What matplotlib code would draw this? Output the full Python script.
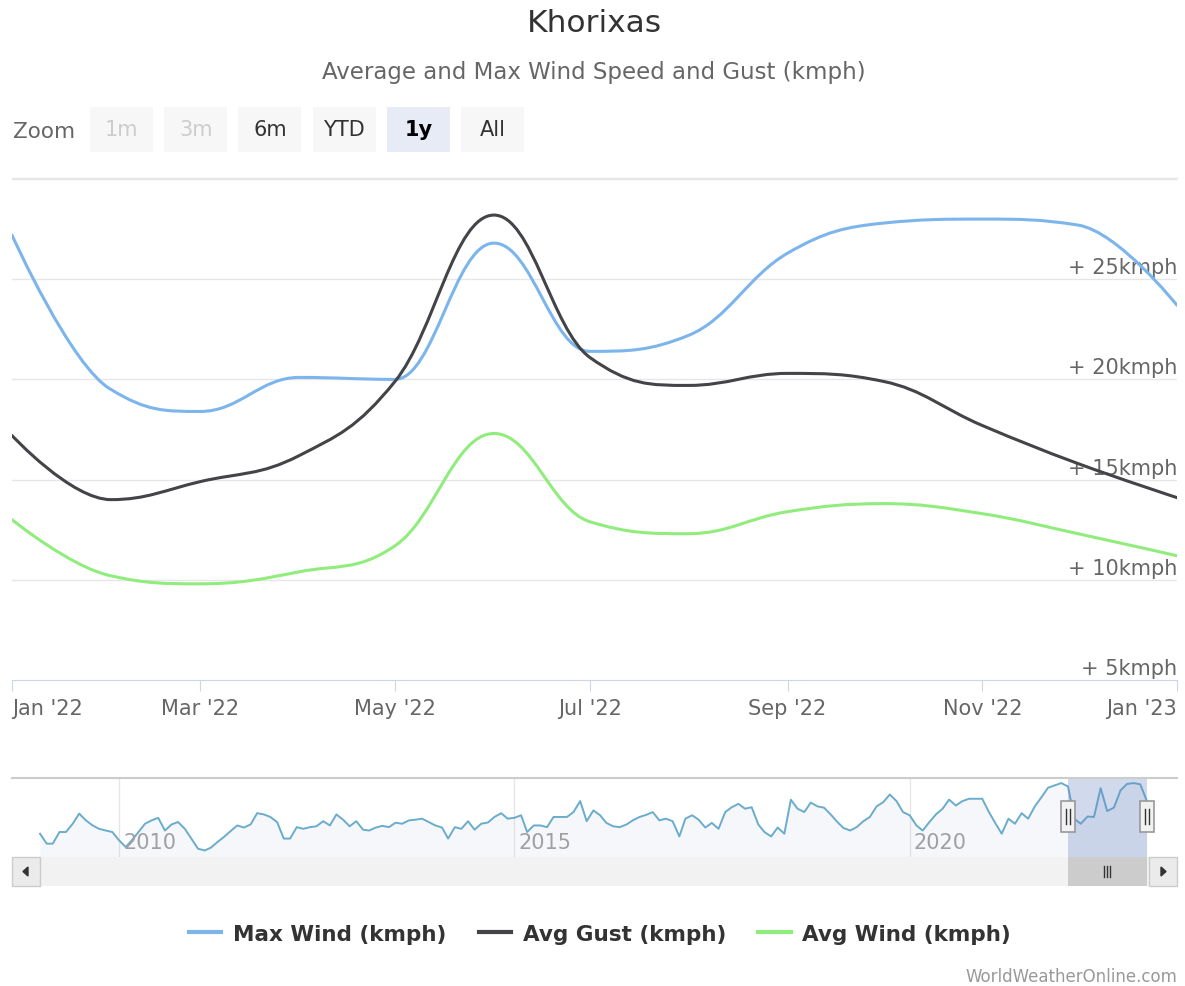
import numpy as np
import pandas as pd
import matplotlib
matplotlib.use("Agg")
import matplotlib.pyplot as plt
import matplotlib.dates as mdates
from matplotlib.path import Path
from matplotlib.patches import PathPatch, Rectangle, Polygon
from matplotlib.lines import Line2D

W, H = 1185, 987

# monthly values shown in the 1y view (Jan 2022 .. Jan 2023)
months = pd.date_range("2022-01-01", "2023-01-01", freq="MS")
max_wind = [27.2, 19.5, 18.4, 20.1, 20.0, 26.8, 21.4, 22.2, 26.3, 27.8, 28.0, 27.7, 23.7]
avg_gust = [17.2, 14.0, 14.9, 16.2, 19.9, 28.2, 21.1, 19.7, 20.3, 19.9, 17.7, 15.8, 14.1]
avg_wind = [13.0, 10.2, 9.8, 10.4, 11.7, 17.3, 12.9, 12.3, 13.4, 13.8, 13.3, 12.3, 11.2]

# navigator history of max wind, Jan 2009 .. Dec 2021
nav_max_wind = [
    16.05, 13.7, 13.7, 16.45, 16.45, 18.4, 20.8, 19.2, 18.0, 17.2, 16.8, 16.45,
    14.5, 12.9, 14.5, 16.45, 18.4, 19.2, 19.8, 16.8, 18.25, 18.8, 17.2, 14.9,
    12.5, 12.1, 12.75, 14.1, 15.3, 16.7, 18.0, 17.5, 18.25, 20.9, 20.6, 20.0,
    18.8, 14.9, 14.9, 17.6, 17.2, 17.6, 17.8, 19.0, 18.0, 20.6, 19.35, 17.8,
    19.0, 17.0, 16.8, 17.5, 17.9, 17.6, 18.65, 18.4, 19.2, 19.35, 19.6, 18.8,
    18.0, 17.5, 14.9, 17.6, 17.2, 19.0, 17.0, 18.4, 18.7, 20.0, 20.9, 19.6,
    19.8, 20.4, 16.45, 18.0, 18.0, 17.6, 20.0, 20.0, 20.0, 21.15, 23.75, 19.0,
    21.55, 20.4, 18.6, 17.8, 17.6, 18.2, 19.2, 20.0, 20.5, 21.15, 19.2, 19.6,
    19.0, 15.4, 19.6, 20.4, 19.35, 17.5, 18.6, 17.2, 21.15, 22.3, 23.1, 21.95,
    22.3, 18.2, 16.45, 15.4, 17.5, 16.05, 24.07, 21.95, 21.15, 23.4, 22.5, 22.2,
    20.6, 18.8, 17.4, 16.8, 17.6, 19.0, 20.0, 22.5, 23.5, 25.3, 23.75, 21.15,
    20.4, 18.0, 16.8, 18.8, 20.6, 21.95, 24.1, 22.7, 23.75, 24.3, 24.3, 24.3,
    21.15, 18.4, 16.05, 19.6, 18.4, 20.9, 19.6, 22.5, 24.7, 26.9, 27.45, 28.0,
]
nav_months = pd.date_range("2009-01-01", periods=len(nav_max_wind), freq="MS")

series_names = ["Max Wind (kmph)", "Avg Gust (kmph)", "Avg Wind (kmph)"]
series_colors = ["#7cb5ec", "#434348", "#90ed7d"]
y_ticks = [5, 10, 15, 20, 25]
x_tick_dates = pd.date_range("2022-01-01", "2023-01-01", freq="2MS")
nav_years = [2010, 2015, 2020]
zoom_buttons = ["1m", "3m", "6m", "YTD", "1y", "All"]


def rect(x0, y0, x1, y1):
    return [x0 / W, 1 - y1 / H, (x1 - x0) / W, (y1 - y0) / H]


def spline_path(x, y, smoothing=1.5):
    # highcharts-style spline control points
    n = len(x)
    left = [None] * n
    right = [None] * n
    for i in range(n):
        if 0 < i < n - 1:
            px, py = x[i], y[i]
            lx, ly = x[i - 1], y[i - 1]
            nx, ny = x[i + 1], y[i + 1]
            d = smoothing + 1
            lcx, lcy = (smoothing * px + lx) / d, (smoothing * py + ly) / d
            rcx, rcy = (smoothing * px + nx) / d, (smoothing * py + ny) / d
            corr = 0
            if rcx != lcx:
                corr = (rcy - lcy) * (rcx - px) / (rcx - lcx) + py - rcy
            lcy += corr
            rcy += corr
            if lcy > ly and lcy > py:
                lcy = max(ly, py); rcy = 2 * py - lcy
            elif lcy < ly and lcy < py:
                lcy = min(ly, py); rcy = 2 * py - lcy
            if rcy > ny and rcy > py:
                rcy = max(ny, py); lcy = 2 * py - rcy
            elif rcy < ny and rcy < py:
                rcy = min(ny, py); lcy = 2 * py - rcy
            left[i] = (lcx, lcy)
            right[i] = (rcx, rcy)
        else:
            left[i] = right[i] = (x[i], y[i])
    verts = [(x[0], y[0])]
    codes = [Path.MOVETO]
    for i in range(1, n):
        verts += [right[i - 1], left[i], (x[i], y[i])]
        codes += [Path.CURVE4] * 3
    return Path(verts, codes)


fig = plt.figure(figsize=(W / 100, H / 100), dpi=100)
fig.patch.set_facecolor("white")

# ---- main chart
ax = fig.add_axes(rect(12, 180, 1177, 681))
xnum = mdates.date2num(months)
for vals, col in zip([max_wind, avg_gust, avg_wind], series_colors):
    ax.add_patch(PathPatch(spline_path(list(xnum), list(vals)), fill=False,
                           edgecolor=col, lw=2.2, capstyle="round", joinstyle="round", zorder=3))
ax.set_xlim(mdates.date2num(pd.Timestamp("2022-01-01")), mdates.date2num(pd.Timestamp("2023-01-01")))
ax.set_ylim(5, 30)
for v in [10, 15, 20, 25, 30]:
    ax.axhline(v, color="#e6e6e6", lw=1, zorder=1)
for v in y_ticks:
    ax.annotate(f"+ {v}kmph", xy=(1.0, v), xycoords=("axes fraction", "data"),
                xytext=(0, 1.5), textcoords="offset points", ha="right", va="bottom",
                fontsize=15, color="#666666", zorder=2)
for s in ["top", "left", "right"]:
    ax.spines[s].set_visible(False)
ax.spines["bottom"].set_color("#ccd6eb")
ax.set_yticks([])
ax.set_xticks(mdates.date2num(x_tick_dates))
ax.set_xticklabels([d.strftime("%b '%y") for d in x_tick_dates], fontsize=15, color="#666666")
ax.tick_params(axis="x", length=8, color="#ccd6eb", pad=5)
labs = ax.get_xticklabels()
labs[0].set_ha("left")
labs[-1].set_ha("right")
ax.patch.set_alpha(0)

# ---- navigator
d0 = mdates.date2num(nav_months[0])
d1 = mdates.date2num(months[-1])
scale = (d1 - d0) / (1147 - 40)
nav = fig.add_axes(rect(12, 779, 1177, 858))
nav_x = mdates.date2num(list(nav_months) + list(months))
nav_y = list(nav_max_wind) + list(max_wind)
nav.set_xlim(d0 - 28 * scale, d1 + 30 * scale)
nav.set_ylim(10.55, 29.2)
nav.fill_between(nav_x, nav_y, 0, color="#6685c2", alpha=0.06, lw=0, zorder=1)
nav.plot(nav_x, nav_y, color="#6aaccc", lw=1.4, zorder=2)
for yr in nav_years:
    nav.axvline(mdates.date2num(pd.Timestamp(f"{yr}-01-01")), color="#e6e6e6", lw=1, zorder=0)
sel0 = mdates.date2num(months[0])
nav.axvspan(sel0, d1, color="#6685c2", alpha=0.3, lw=0, zorder=3)
nav.axis("off")

# ---- overlay for texts and widgets (pixel coords)
ov = fig.add_axes([0, 0, 1, 1])
ov.set_xlim(0, W)
ov.set_ylim(H, 0)
ov.axis("off")

ov.text(594, 24, "Khorixas", ha="center", va="center", fontsize=22.5, color="#333333")
ov.text(594, 72, "Average and Max Wind Speed and Gust (kmph)", ha="center", va="center",
        fontsize=16.5, color="#666666")

ov.text(13, 132, "Zoom", ha="left", va="center", fontsize=15.5, color="#666666")
for k, lab in enumerate(zoom_buttons):
    bx = 90 + k * 74.2
    face = "#e6ebf5" if lab == "1y" else "#f7f7f7"
    ov.add_patch(Rectangle((bx, 108), 63, 45, facecolor=face, edgecolor="none"))
    col = "#cccccc" if lab in ("1m", "3m") else ("#000000" if lab == "1y" else "#333333")
    ov.text(bx + 31.5, 130, lab, ha="center", va="center", fontsize=15, color=col,
            fontweight="bold" if lab == "1y" else "normal")
ov.plot([12, 1177], [179, 179], color="#e6e6e6", lw=1)

# navigator frame, labels
ov.plot([12, 1177], [779, 779], color="#cccccc", lw=1.5)
for yr in nav_years:
    px = nav.transData.transform((mdates.date2num(pd.Timestamp(f"{yr}-01-01")), 0))[0]
    ov.text(px + 4, 843, str(yr), ha="left", va="center", fontsize=15, color="#a0a0a0")

x_sel0 = nav.transData.transform((sel0, 0))[0]
x_sel1 = nav.transData.transform((d1, 0))[0]

# scrollbar
ov.add_patch(Rectangle((12, 858), 1165, 29, facecolor="#f2f2f2", edgecolor="none"))
ov.add_patch(Rectangle((12, 858), 28, 29, facecolor="#ebebeb", edgecolor="#cccccc", lw=1))
ov.add_patch(Rectangle((1149, 858), 28, 29, facecolor="#ebebeb", edgecolor="#cccccc", lw=1))
ov.add_patch(Polygon([[23, 872.5], [28, 868], [28, 877]], closed=True, color="#333333"))
ov.add_patch(Polygon([[1166, 872.5], [1161, 868], [1161, 877]], closed=True, color="#333333"))
ov.add_patch(Rectangle((x_sel0, 858), x_sel1 - x_sel0, 29, facecolor="#cccccc", edgecolor="none"))
gx = (x_sel0 + x_sel1) / 2
for dx in (-3, 0, 3):
    ov.plot([gx + dx, gx + dx], [867, 878], color="#333333", lw=1)

# navigator handles
for hx in (x_sel0, x_sel1):
    ov.add_patch(Rectangle((hx - 7, 802), 14, 31, facecolor="#f2f2f2", edgecolor="#999999", lw=1.2, zorder=5))
    for dx in (-2, 2):
        ov.plot([hx + dx, hx + dx], [810, 825], color="#333333", lw=1, zorder=6)

# legend
handles = [Line2D([], [], color=c, lw=3) for c in series_colors]
fig.legend(handles, series_names, loc="center", bbox_to_anchor=(600 / W, 1 - 935 / H),
           ncol=3, frameon=False, handlelength=1.5, handletextpad=0.55, columnspacing=1.5,
           prop={"size": 15.5, "weight": "bold"}, labelcolor="#333333")

ov.text(1177, 977, "WorldWeatherOnline.com", ha="right", va="center", fontsize=12, color="#999999")

fig.savefig("out.png", dpi=100)
